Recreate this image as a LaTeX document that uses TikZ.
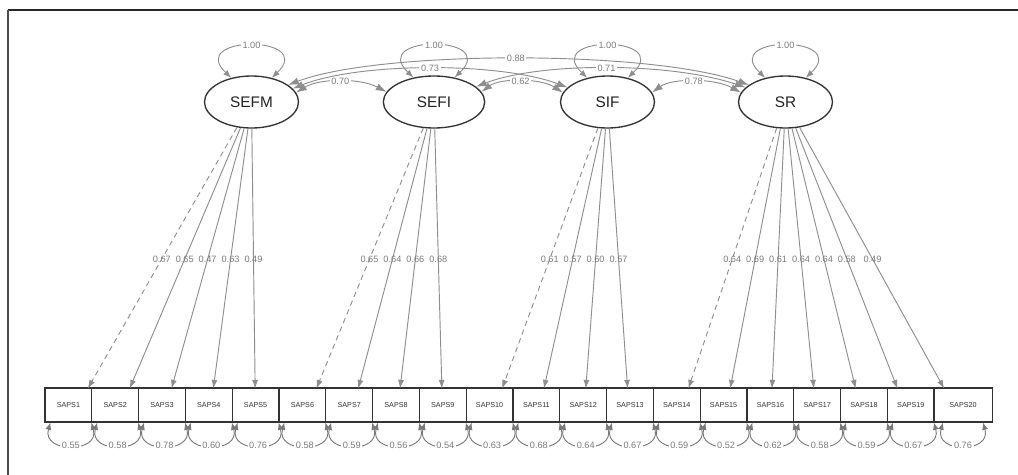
\documentclass[tikz,border=0pt]{standalone}
\usepackage{fontspec}
\setmainfont{Liberation Sans}
\usetikzlibrary{arrows.meta,calc,shapes.geometric}
\definecolor{edge}{HTML}{8E8E8E}
\definecolor{labc}{HTML}{7C7C7C}
\definecolor{dark}{HTML}{333333}
\definecolor{txt}{HTML}{222222}
\begin{document}
\begin{tikzpicture}[x=0.75pt,y=-0.75pt,
  lat/.style={ellipse, draw=dark, line width=1pt, minimum width=70.5pt, minimum height=39pt, inner sep=0pt, font=\fontsize{11.5}{13}\selectfont, text=txt},
  obs/.style={rectangle, draw=dark, line width=0.8pt, minimum width=35.1pt, minimum height=25.5pt, inner sep=0pt, font=\fontsize{5.4}{6}\selectfont, text=dark},
  lab/.style={font=\fontsize{6.9}{8}\selectfont, text=labc, inner sep=1.2pt},
  load/.style={draw=edge, line width=0.7pt, -{Latex[length=6.5pt,width=4.5pt]}},
  ld/.style={dash pattern=on 4pt off 3pt},
  cov/.style={draw=edge, line width=0.7pt, {Latex[length=8pt,width=5.5pt]}-{Latex[length=8pt,width=5.5pt]}},
  vloop/.style={draw=edge, line width=0.7pt, {Latex[length=6pt,width=4.5pt]}-{Latex[length=6pt,width=4.5pt]}},
  res/.style={draw=edge!85!black, line width=0.7pt, {Latex[length=5.5pt,width=4.5pt]}-{Latex[length=5.5pt,width=4.5pt]}},
]
\useasboundingbox (0,0) rectangle (1018,475);
% frame
\draw[line width=1.5pt, black!85] (8,10) -- (1018,10);
\draw[line width=1.5pt, black!70] (8,10) -- (8,475);

% latent variables
\node[lat] (SEFM) at (251.5,102) {SEFM};
\node[lat, minimum width=76pt] (SEFI) at (434,102) {SEFI};
\node[lat] (SIF) at (607.5,102) {SIF};
\node[lat] (SR) at (785.5,102) {SR};

% indicators
\foreach \i in {1,...,19} {\node[obs] (b\i) at ({45+46.8*(\i-0.5)},405) {SAPS\i};}
\node[obs, minimum width=43.6pt] (b20) at (963,405) {SAPS20};

% loadings
\foreach \l/\b/\v/\s in {SEFM/1/0.67/ld, SEFM/2/0.65/solid, SEFM/3/0.47/solid, SEFM/4/0.63/solid, SEFM/5/0.49/solid,
  SEFI/6/0.65/ld, SEFI/7/0.64/solid, SEFI/8/0.66/solid, SEFI/9/0.68/solid,
  SIF/10/0.61/ld, SIF/11/0.57/solid, SIF/12/0.60/solid, SIF/13/0.57/solid,
  SR/14/0.64/ld, SR/15/0.69/solid, SR/16/0.61/solid, SR/17/0.64/solid, SR/18/0.64/solid, SR/19/0.58/solid, SR/20/0.49/solid} {
  \draw[load,\s] (\l) -- ($(\l.center)!0.894!(b\b.south)$);
  \node[lab] (l\b) at ($(\l.center)!0.49!(b\b.south)$) {\v};
}

% variances of latents
\foreach \n in {SEFM,SEFI,SIF,SR} {
  \draw[vloop] (\n.130) .. controls +(-45,-43) and +(45,-43) .. (\n.50) node[lab,pos=0.5,fill=white] (v\n) {1.00};
}

% covariances
\draw[cov] (SEFM.12) .. controls (320,78) and (360,78) .. (SEFI.168) node[lab,pos=0.5,fill=white] (c1) {0.70};
\draw[cov] (SEFI.12) .. controls (500,78) and (540,78) .. (SIF.168) node[lab,pos=0.5,fill=white] (c4) {0.62};
\draw[cov] (SIF.12) .. controls (672,78) and (714,78) .. (SR.168) node[lab,pos=0.5,fill=white] (c6) {0.78};
\draw[cov] (SEFM.18) .. controls (360,62) and (500,62) .. (SIF.160) node[lab,pos=0.5,fill=white] (c2) {0.73};
\draw[cov] (SEFI.20) .. controls (540,62) and (670,62) .. (SR.160) node[lab,pos=0.5,fill=white] (c5) {0.71};
\draw[cov] (SEFM.25) .. controls (380,50) and (650,50) .. (SR.155) node[lab,pos=0.5,fill=white] (c3) {0.88};

% residuals
\foreach \i/\v in {1/0.55, 2/0.58, 3/0.78, 4/0.60, 5/0.76, 6/0.58, 7/0.59, 8/0.56, 9/0.54, 10/0.63,
  11/0.68, 12/0.64, 13/0.67, 14/0.59, 15/0.52, 16/0.62, 17/0.58, 18/0.59, 19/0.67} {
  \draw[res] ($(b\i.south)+(-18,0)$) .. controls +(-9,31) and +(9,31) .. ($(b\i.south)+(23,0)$) node[lab,pos=0.5,fill=white] (r\i) {\v};
}
\draw[res] ($(b20.south)+(-20,0)$) .. controls +(-9,31) and +(9,31) .. ($(b20.south)+(20,0)$) node[lab,pos=0.5,fill=white] (r20) {0.76};
\end{tikzpicture}
\end{document}
